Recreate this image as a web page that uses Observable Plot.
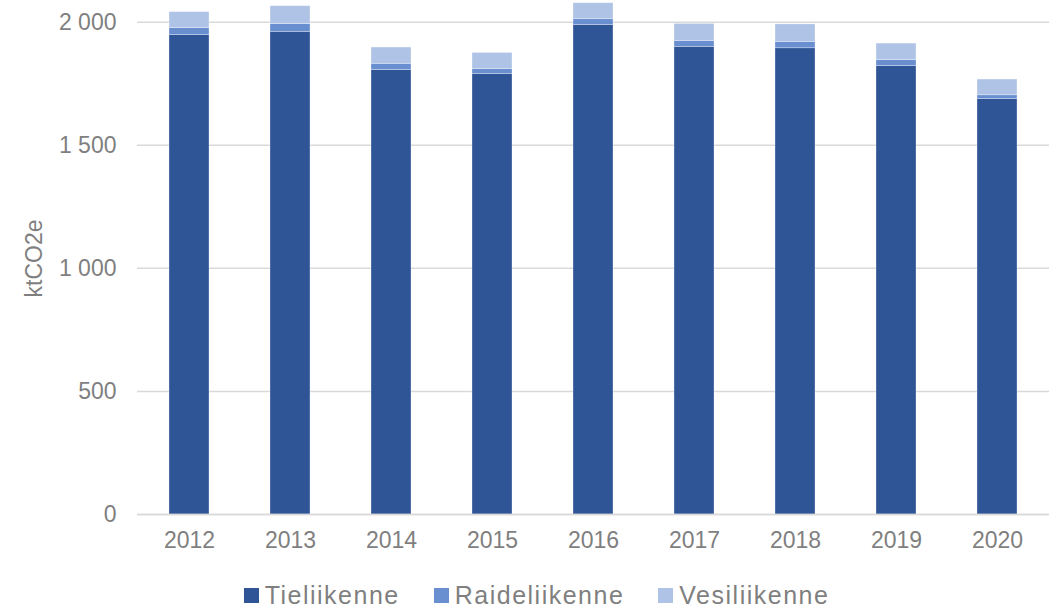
<!DOCTYPE html>
<html>
<head>
<meta charset="utf-8">
<script src="https://cdn.jsdelivr.net/npm/d3@7"></script>
<script src="https://cdn.jsdelivr.net/npm/@observablehq/plot@0.6"></script>
<style>
  html, body { margin: 0; padding: 0; background: #fff; }
  body { width: 1049px; height: 608px; overflow: hidden; font-family: "Liberation Sans", Arial, sans-serif; }
  #chart svg { display: block; }
  #legend { display: flex; justify-content: center; align-items: center; height: 28px; margin-top: 31px; margin-left: 24px;
            font-size: 25px; letter-spacing: 1.5px; color: #7f7f7f; }
  .item { display: flex; align-items: center; margin: 0 17px; }
  .sw { width: 15px; height: 15px; margin-right: 6px; }
</style>
</head>
<body>
<div id="chart"></div>
<div id="legend"></div>
<script>
const years = ["2012","2013","2014","2015","2016","2017","2018","2019","2020"];
const series = ["Tieliikenne","Raideliikenne","Vesiliikenne"];
const tieliikenne   = [1948, 1961, 1806, 1790, 1989, 1900, 1894, 1822, 1688];
const raideliikenne = [28, 31, 25, 20, 23, 24, 26, 24, 15];
const vesiliikenne  = [65, 73, 66, 65, 65, 69, 71, 67, 64];
const colors = ["#2f5597", "#6a8fd1", "#afc3e6"];
const yTicks = [0, 500, 1000, 1500, 2000];

const valuesBySeries = [tieliikenne, raideliikenne, vesiliikenne];
const data = [];
years.forEach((y, i) => series.forEach((s, j) => data.push({year: y, series: s, value: valuesBySeries[j][i]})));

const fmt = d3.formatLocale({decimal: ",", thousands: "\u00a0", grouping: [3]}).format(",");

const chart = Plot.plot({
  width: 1049,
  height: 550,
  marginLeft: 137,
  marginRight: 0,
  marginTop: 2,
  marginBottom: 36,
  style: {fontFamily: "'Liberation Sans', Arial, sans-serif", fontSize: "23px", color: "#7f7f7f", background: "#fff", overflow: "visible"},
  x: {domain: years, paddingInner: 0.6, paddingOuter: 0.3, label: null},
  y: {domain: [0, 2080], ticks: yTicks, label: "ktCO2e", labelAnchor: "center", labelArrow: "none"},
  color: {domain: series, range: colors},
  marks: [
    Plot.gridY(yTicks, {stroke: "#d9d9d9", strokeOpacity: 1, strokeWidth: 1.5}),
    Plot.barY(data, {x: "year", y: "value", fill: "series", order: series, stroke: "#ffffff", strokeWidth: 0.6, strokeOpacity: 0.5}),
    Plot.ruleY([0], {stroke: "#d9d9d9", strokeWidth: 1.5}),
    Plot.axisX({tickSize: 0, tickPadding: 17, fontSize: 23, label: null}),
    Plot.axisY(yTicks, {tickSize: 0, tickPadding: 21, fontSize: 23, tickFormat: fmt, label: "ktCO2e", labelAnchor: "center", labelArrow: "none", labelOffset: 112})
  ]
});
document.getElementById("chart").appendChild(chart);

const legend = document.getElementById("legend");
series.forEach((s, j) => {
  const it = document.createElement("div");
  it.className = "item";
  const sw = document.createElement("div");
  sw.className = "sw";
  sw.style.background = colors[j];
  const t = document.createElement("span");
  t.textContent = s;
  it.appendChild(sw); it.appendChild(t);
  legend.appendChild(it);
});
</script>
</body>
</html>
